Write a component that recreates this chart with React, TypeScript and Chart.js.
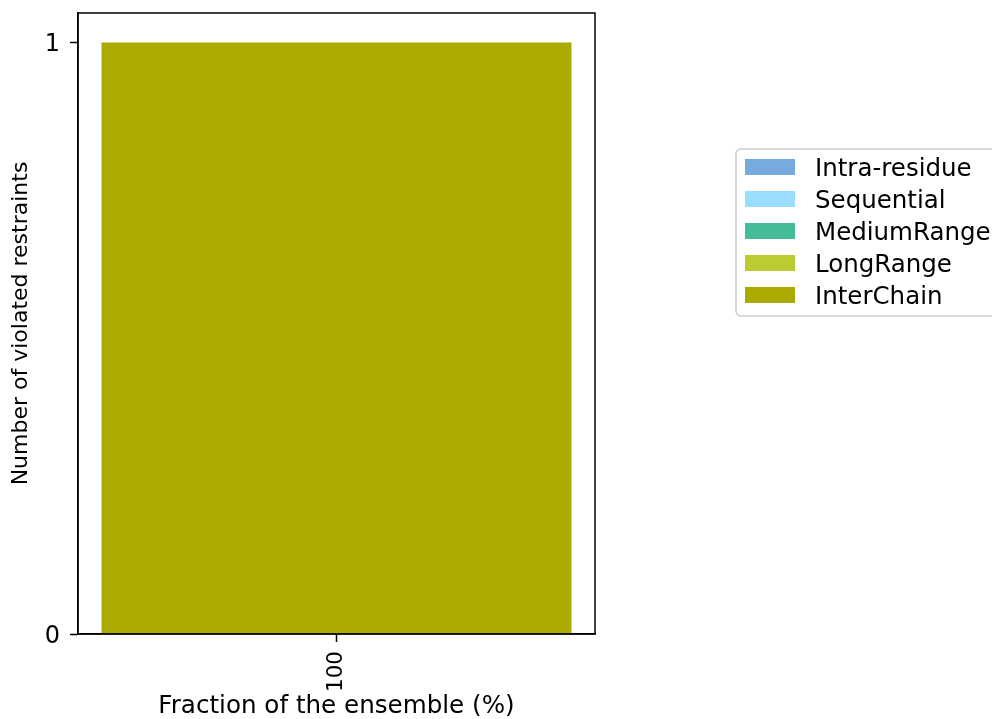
import React, { useEffect, useRef } from "react";
import { Chart, registerables } from "chart.js";

Chart.register(...registerables);

const categories: string[] = ["100"];
const seriesNames: string[] = ["Intra-residue", "Sequential", "MediumRange", "LongRange", "InterChain"];
const seriesColors: string[] = ["#77AADD", "#99DDFF", "#44BB99", "#BBCC33", "#AAAA00"];
const intraResidue: number[] = [0];
const sequential: number[] = [0];
const mediumRange: number[] = [0];
const longRange: number[] = [0];
const interChain: number[] = [1];
const yTickValues: number[] = [0, 1];
const yTickLabels: string[] = ["0", "1"];
const yAxisTitle = "Number of violated restraints";
const xAxisTitle = "Fraction of the ensemble (%)";

const FONT = "'DejaVu Sans', sans-serif";

const framePlugin = {
  id: "frame",
  afterDatasetsDraw(chart: any) {
    const { ctx, chartArea } = chart;
    ctx.save();
    ctx.strokeStyle = "#000";
    ctx.lineWidth = 1.5;
    ctx.strokeRect(chartArea.left, chartArea.top, chartArea.right - chartArea.left, chartArea.bottom - chartArea.top);
    ctx.restore();
  },
};

const yLabelPlugin = {
  id: "yLabels",
  afterDraw(chart: any) {
    const ctx = chart.ctx;
    const yScale = chart.scales.y;
    ctx.save();
    ctx.fillStyle = "#000";
    ctx.font = `24px ${FONT}`;
    ctx.textAlign = "right";
    ctx.textBaseline = "alphabetic";
    yTickValues.forEach((v, i) => {
      const py = yScale.getPixelForValue(v);
      ctx.fillText(yTickLabels[i], yScale.right - 18, py + 8.5);
    });
    ctx.restore();
  },
};

const legendPlugin = {
  id: "customLegend",
  afterDraw(chart: any) {
    const ctx = chart.ctx;
    const x0 = 736;
    const y0 = 149;
    const w = 270;
    const h = 167;
    const r = 5;
    ctx.save();
    ctx.beginPath();
    ctx.moveTo(x0 + r, y0);
    ctx.lineTo(x0 + w - r, y0);
    ctx.arcTo(x0 + w, y0, x0 + w, y0 + r, r);
    ctx.lineTo(x0 + w, y0 + h - r);
    ctx.arcTo(x0 + w, y0 + h, x0 + w - r, y0 + h, r);
    ctx.lineTo(x0 + r, y0 + h);
    ctx.arcTo(x0, y0 + h, x0, y0 + h - r, r);
    ctx.lineTo(x0, y0 + r);
    ctx.arcTo(x0, y0, x0 + r, y0, r);
    ctx.closePath();
    ctx.fillStyle = "rgba(255,255,255,0.8)";
    ctx.fill();
    ctx.strokeStyle = "#cccccc";
    ctx.lineWidth = 1.5;
    ctx.stroke();
    chart.data.datasets.forEach((ds: any, i: number) => {
      const cy = 167 + 32 * i;
      ctx.fillStyle = ds.backgroundColor;
      ctx.fillRect(745, cy - 8, 50, 16);
      ctx.fillStyle = "#000";
      ctx.font = `24.5px ${FONT}`;
      ctx.textAlign = "left";
      ctx.textBaseline = "alphabetic";
      ctx.fillText(ds.label, 815, cy + 9);
    });
    ctx.restore();
  },
};

export default function App() {
  const canvasRef = useRef<HTMLCanvasElement | null>(null);

  useEffect(() => {
    document.body.style.margin = "0";
    const canvas = canvasRef.current;
    if (!canvas) return;
    const values = [intraResidue, sequential, mediumRange, longRange, interChain];
    const chart = new Chart(canvas, {
      type: "bar",
      data: {
        labels: categories,
        datasets: seriesNames.map((name, i) => ({
          label: name,
          data: values[i],
          backgroundColor: seriesColors[i],
          borderWidth: 0,
          categoryPercentage: 1,
          barPercentage: 0.909,
        })),
      },
      options: {
        animation: false,
        responsive: true,
        maintainAspectRatio: false,
        layout: { padding: { top: 13, right: 397, left: 0, bottom: 0 } },
        plugins: {
          legend: { display: false },
          tooltip: { enabled: false },
        },
        scales: {
          x: {
            stacked: true,
            offset: true,
            grid: {
              display: true,
              drawOnChartArea: false,
              drawTicks: true,
              tickLength: 8,
              tickWidth: 1.5,
              tickColor: "#000",
              offset: false,
            },
            border: { display: true, color: "#000", width: 1.5 },
            ticks: {
              color: "#000",
              font: { family: FONT, size: 21.5 },
              minRotation: 90,
              maxRotation: 90,
              padding: 9,
            },
            title: {
              display: true,
              text: xAxisTitle,
              color: "#000",
              font: { family: FONT, size: 24.6, lineHeight: 1.0 },
              padding: { top: 0, bottom: 0 },
            },
            afterFit(scale: any) {
              scale.height = 85;
              scale.paddingLeft = 0;
              scale.paddingRight = 0;
            },
          },
          y: {
            stacked: true,
            min: 0,
            max: 1.05,
            afterBuildTicks(scale: any) {
              scale.ticks = yTickValues.map((v) => ({ value: v }));
            },
            grid: {
              display: true,
              drawOnChartArea: false,
              drawTicks: true,
              tickLength: 8,
              tickWidth: 1.5,
              tickColor: "#000",
            },
            border: { display: true, color: "#000", width: 1.5 },
            ticks: {
              display: false,
            },
            title: {
              display: true,
              text: yAxisTitle,
              color: "#000",
              font: { family: FONT, size: 22 },
              padding: { top: 8, bottom: 0 },
            },
            afterFit(scale: any) {
              scale.width = 78;
              scale.paddingTop = 0;
              scale.paddingBottom = 0;
            },
          },
        },
      },
      plugins: [framePlugin, yLabelPlugin, legendPlugin],
    });
    return () => chart.destroy();
  }, []);

  return (
    <div style={{ position: "relative", width: "992px", height: "719px" }}>
      <canvas ref={canvasRef} />
    </div>
  );
}
